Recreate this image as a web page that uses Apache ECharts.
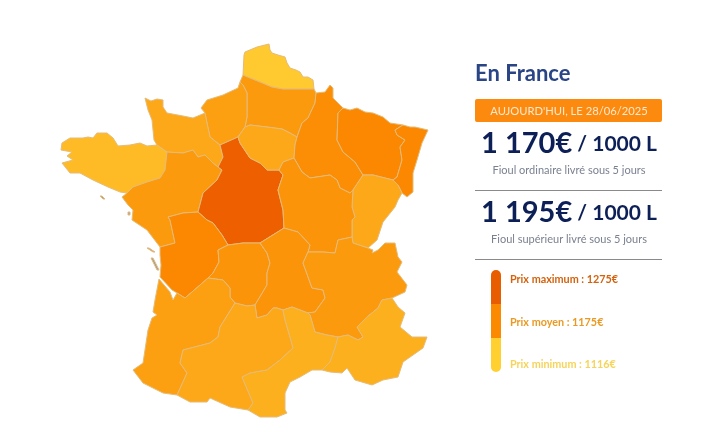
<!DOCTYPE html>
<html>
<head>
<meta charset="utf-8">
<title>Prix du fioul en France</title>
<script src="https://cdn.jsdelivr.net/npm/echarts@6/dist/echarts.min.js"></script>
<style>
html, body { margin: 0; padding: 0; background: #fff; }
#chart { width: 706px; height: 439px; }
</style>
</head>
<body>
<div id="chart"></div>
<script>
// prix par region, lus a la couleur de la carte
var regionNames = ['Nord-Pas-de-Calais', 'Picardie', 'Haute-Normandie', 'Basse-Normandie', 'Bretagne', 'Pays de la Loire', 'Centre', 'Ile-de-France', 'Champagne-Ardenne', 'Lorraine', 'Alsace', 'Franche-Comte', 'Bourgogne', 'Poitou-Charentes', 'Limousin', 'Auvergne', 'Rhone-Alpes', 'Aquitaine', 'Midi-Pyrenees', 'Languedoc-Roussillon', 'PACA'];
var regionPrices = [1120, 1174, 1168, 1158, 1136, 1174, 1275, 1158, 1188, 1195, 1195, 1158, 1181, 1195, 1181, 1181, 1174, 1168, 1158, 1149, 1149];

var todayLabel = "AUJOURD'HUI, LE 28/06/2025";
var ordinaryPrice = '1 170€';
var superiorPrice = '1 195€';
var priceUnit = ' / 1000 L';
var ordinaryLabel = 'Fioul ordinaire livré sous 5 jours';
var superiorLabel = 'Fioul supérieur livré sous 5 jours';
var priceMax = 1275;
var priceAvg = 1175;
var priceMin = 1116;

// contours des regions (le fond de carte)
var outlines = {
    'Nord-Pas-de-Calais': [[243,75],[244,55],[245,52],[257,47],[269,44],[270,50],[272,53],[278,55],[285,57],[287,63],[290,68],[296,70],[300,72],[303,77],[308,77],[313,80],[314,89],[300,89],[283,89],[272,87],[260,82],[250,78]],
    'Picardie': [[243,75],[250,78],[260,82],[272,87],[283,89],[300,89],[314,89],[316,93],[315,103],[308,118],[302,123],[297,137],[290,133],[282,129],[267,127],[250,125],[245,127],[247,117],[247,97],[247,93],[243,85],[240,82]],
    'Haute-Normandie': [[205,113],[201,108],[207,100],[223,95],[238,88],[240,82],[243,85],[247,93],[247,97],[247,117],[245,127],[238,137],[220,145],[210,137],[207,123]],
    'Basse-Normandie': [[205,113],[207,123],[210,137],[220,145],[223,157],[218,167],[213,163],[205,155],[198,157],[193,150],[183,153],[167,152],[157,145],[154,140],[152,120],[148,110],[145,98],[151,101],[157,99],[163,100],[163,107],[167,113],[183,116],[193,118]],
    'Bretagne': [[157,145],[167,152],[165,170],[160,178],[147,182],[133,187],[127,193],[120,192],[108,187],[93,180],[80,173],[70,173],[62,163],[73,160],[67,156],[72,152],[61,150],[62,143],[70,138],[83,138],[88,137],[93,138],[97,133],[107,133],[113,138],[118,146],[130,145],[140,143],[147,146]],
    'Pays de la Loire': [[167,152],[183,153],[193,150],[198,157],[205,155],[213,163],[218,167],[222,170],[217,180],[203,193],[198,212],[183,213],[168,217],[170,220],[175,243],[160,247],[147,230],[132,220],[133,210],[128,205],[122,197],[127,193],[133,187],[147,182],[160,178],[165,170]],
    'Centre': [[220,145],[238,137],[240,143],[250,158],[260,163],[267,170],[279,170],[283,175],[278,190],[283,210],[284,228],[260,243],[243,243],[228,245],[222,235],[213,223],[207,220],[198,212],[203,193],[217,180],[222,170],[218,167],[223,157]],
    'Ile-de-France': [[245,127],[250,125],[267,127],[282,129],[290,133],[297,137],[295,145],[294,158],[283,162],[279,170],[267,170],[260,163],[250,158],[240,143],[238,137]],
    'Champagne-Ardenne': [[316,93],[325,92],[330,85],[333,88],[333,98],[343,108],[338,113],[337,140],[343,152],[355,162],[363,175],[353,190],[350,193],[340,188],[337,180],[330,175],[310,178],[302,172],[294,158],[295,145],[297,137],[302,123],[308,118],[315,103]],
    'Lorraine': [[343,108],[350,110],[357,108],[365,112],[373,113],[383,117],[390,123],[403,125],[395,130],[397,135],[405,140],[400,147],[402,160],[397,177],[393,180],[373,175],[363,175],[355,162],[343,152],[337,140],[338,113]],
    'Alsace': [[395,130],[403,125],[410,127],[415,127],[428,130],[422,143],[417,160],[413,173],[413,192],[407,197],[402,193],[398,185],[393,180],[397,177],[402,160],[400,147],[405,140],[397,135]],
    'Franche-Comte': [[363,175],[373,175],[393,180],[398,185],[402,193],[398,200],[395,207],[387,217],[383,222],[377,240],[368,248],[353,243],[352,237],[352,220],[355,217],[352,207],[353,190]],
    'Bourgogne': [[279,170],[283,162],[294,158],[302,172],[310,178],[330,175],[337,180],[340,188],[350,193],[353,190],[352,207],[355,217],[352,220],[352,237],[338,240],[335,253],[323,252],[308,252],[310,245],[298,232],[284,228],[283,210],[278,190],[283,175]],
    'Poitou-Charentes': [[168,217],[183,213],[198,212],[207,220],[213,223],[222,235],[228,245],[218,250],[219,262],[213,273],[208,278],[200,285],[185,298],[177,293],[172,290],[160,277],[161,265],[160,255],[160,247],[175,243],[170,220]],
    'Limousin': [[218,250],[228,245],[243,243],[260,243],[267,253],[270,263],[267,273],[267,285],[255,305],[247,306],[235,303],[230,297],[230,288],[223,280],[208,278],[213,273],[219,262]],
    'Auvergne': [[284,228],[298,232],[310,245],[308,252],[303,263],[312,288],[323,290],[325,298],[315,312],[308,313],[292,307],[283,310],[277,308],[273,308],[267,315],[257,318],[255,305],[267,285],[267,273],[270,263],[267,253],[260,243]],
    'Rhone-Alpes': [[308,252],[323,252],[335,253],[338,240],[352,237],[353,243],[368,248],[373,250],[372,253],[378,250],[385,243],[395,243],[398,257],[402,262],[397,272],[407,285],[405,292],[392,298],[382,300],[378,308],[367,317],[357,327],[363,337],[358,340],[348,335],[338,337],[327,335],[315,332],[310,315],[308,313],[315,312],[325,298],[323,290],[312,288],[303,263]],
    'Aquitaine': [[159,279],[170,292],[173,300],[177,293],[185,298],[200,285],[208,278],[223,280],[230,288],[230,297],[235,303],[220,327],[218,337],[210,343],[183,350],[180,363],[187,373],[177,395],[163,393],[153,388],[143,383],[133,370],[143,363],[148,330],[152,318],[157,315],[153,312],[155,300]],
    'Midi-Pyrenees': [[235,303],[247,306],[255,305],[257,318],[267,315],[273,308],[277,308],[283,310],[285,320],[290,337],[293,348],[280,360],[267,370],[250,373],[242,377],[253,403],[248,410],[230,407],[210,398],[207,402],[190,402],[177,395],[187,373],[180,363],[183,350],[210,343],[218,337],[220,327]],
    'Languedoc-Roussillon': [[292,307],[308,313],[310,315],[315,332],[327,335],[338,337],[335,348],[330,362],[322,370],[312,370],[300,377],[290,382],[285,393],[285,410],[287,413],[277,417],[260,417],[248,410],[253,403],[242,377],[250,373],[267,370],[280,360],[293,348],[290,337],[285,320],[283,310]],
    'PACA': [[382,300],[392,298],[398,307],[405,313],[400,327],[412,337],[427,337],[423,348],[403,362],[398,377],[383,380],[372,385],[355,380],[347,368],[342,373],[330,372],[322,370],[330,362],[335,348],[338,337],[348,335],[358,340],[363,337],[357,327],[367,317],[378,308]]
};
var islands = {
    'Re': [[147,248],[149,248],[155,252],[153,252]],
    'Oleron': [[151,258],[153,258],[159,270],[157,270]],
    'Belle-Ile': [[100,196],[102,196],[105,199],[103,199]],
    'Noirmoutier': [[128,212],[130,212],[130,215],[128,215]]
};

function toFeature(name, ring) {
    var coords = [];
    for (var i = 0; i < ring.length; i++) {
        coords.push([ring[i][0], -ring[i][1]]);
    }
    coords.push(coords[0]);
    return { type: 'Feature', properties: { name: name }, geometry: { type: 'Polygon', coordinates: [coords] } };
}

var features = [];
for (var r in outlines) { features.push(toFeature(r, outlines[r])); }
for (var k in islands) { features.push(toFeature(k, islands[k])); }
echarts.registerMap('france', { type: 'FeatureCollection', features: features });

var seriesData = [];
for (var i = 0; i < regionNames.length; i++) {
    seriesData.push({ name: regionNames[i], value: regionPrices[i] });
}

var font = 'Lato, "Open Sans", sans-serif';
var navy = '#0c1f57';

function priceText(x, y, price) {
    return {
        type: 'text', x: x, y: y,
        style: {
            text: '{a|' + price + '}{b|' + priceUnit + '}',
            align: 'center', verticalAlign: 'middle',
            rich: {
                a: { fontFamily: font, fontSize: 29, fontWeight: 700, fill: navy, color: navy },
                b: { fontFamily: font, fontSize: 21, fontWeight: 700, fill: navy, color: navy }
            }
        }
    };
}
function plainText(x, y, text, size, color, weight, align) {
    return {
        type: 'text', x: x, y: y,
        style: { text: text, fontFamily: font, fontSize: size, fontWeight: weight, fill: color, align: align, verticalAlign: 'middle' }
    };
}
function rule(y) {
    return { type: 'line', shape: { x1: 475, y1: y, x2: 662, y2: y }, style: { stroke: '#8a8a8a', lineWidth: 1 } };
}

var chart = echarts.init(document.getElementById('chart'));
chart.setOption({
    animation: false,
    backgroundColor: '#fff',
    visualMap: {
        show: false,
        type: 'continuous',
        seriesIndex: 0,
        min: priceMin,
        max: priceMax,
        inRange: { color: ['#ffcc33', '#fb8800', '#ee5f00'] }
    },
    series: [{
        type: 'map',
        map: 'france',
        silent: true,
        aspectScale: 1,
        left: 61,
        top: 44,
        width: 367,
        height: 373,
        label: { show: false },
        itemStyle: { areaColor: '#9c9c9c', borderColor: '#e6bb78', borderWidth: 1 },
        emphasis: { disabled: true },
        data: seriesData
    }],
    graphic: [
        plainText(475, 74, 'En France', 22, '#2a4585', 700, 'left'),
        { type: 'rect', shape: { x: 475, y: 99, width: 187, height: 23, r: 2 }, style: { fill: '#fb8a0e' } },
        plainText(569, 111, todayLabel, 11.2, '#fde8cf', 400, 'center'),
        priceText(569, 144, ordinaryPrice),
        plainText(569, 170, ordinaryLabel, 11, '#7a8090', 400, 'center'),
        rule(190.5),
        priceText(569, 213, superiorPrice),
        plainText(569, 239, superiorLabel, 11, '#7a8090', 400, 'center'),
        rule(259.5),
        { type: 'rect', shape: { x: 491, y: 270, width: 10, height: 34, r: [5, 5, 0, 0] }, style: { fill: '#e85d00' } },
        { type: 'rect', shape: { x: 491, y: 304, width: 10, height: 34 }, style: { fill: '#fb8a00' } },
        { type: 'rect', shape: { x: 491, y: 338, width: 10, height: 34, r: [0, 0, 5, 5] }, style: { fill: '#ffd030' } },
        plainText(510, 280, 'Prix maximum : ' + priceMax + '€', 10.8, '#d4620e', 700, 'left'),
        plainText(510, 323, 'Prix moyen : ' + priceAvg + '€', 10.8, '#ea9a24', 700, 'left'),
        plainText(510, 365, 'Prix minimum : ' + priceMin + '€', 10.8, '#f6d45a', 700, 'left')
    ]
});
window.addEventListener('resize', function () { chart.resize(); });
</script>
</body>
</html>
